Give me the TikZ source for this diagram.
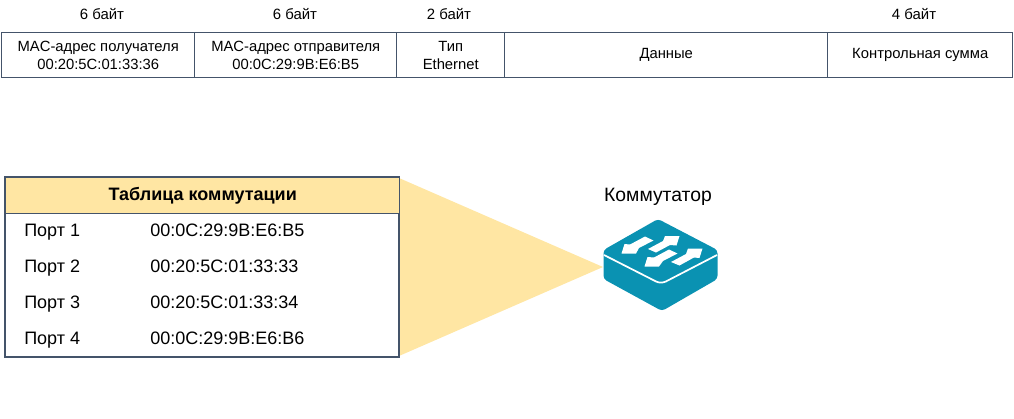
\documentclass[tikz,border=0pt]{standalone}
\usepackage{fontspec}
\setmainfont{Liberation Sans}
\definecolor{edge}{HTML}{44546A}
\definecolor{sand}{HTML}{FFE6A3}
\definecolor{teal1}{HTML}{0A92B2}
\tikzset{
  cell/.style={draw=edge,line width=1.1pt,anchor=north west,inner sep=0pt,align=center,font=\fontsize{11.1}{13.5}\selectfont,text=black},
  lab/.style={inner sep=0pt,font=\fontsize{11.2}{13}\selectfont,text=black},
  row/.style={inner sep=0pt,anchor=base west,font=\fontsize{13.5}{16}\selectfont,text=black},
  arr/.style={fill=white,draw=none},
}
\begin{document}
\begin{tikzpicture}[x=0.75pt,y=-0.75pt]
\useasboundingbox (0,0) rectangle (1014,418);
% top frame
\node[cell,minimum width=144.75pt,minimum height=33.75pt] (a) at (1,32) {MAC-адрес получателя\\00:20:5C:01:33:36};
\node[cell,minimum width=151.5pt,minimum height=33.75pt] (b) at (194,32) {MAC-адрес отправителя\\00:0C:29:9B:E6:B5};
\node[cell,minimum width=81pt,minimum height=33.75pt] (c) at (396,32) {Тип\\Ethernet};
\node[cell,minimum width=242.25pt,minimum height=33.75pt] (d) at (504,32) {Данные};
\node[cell,minimum width=138.75pt,minimum height=33.75pt] (e) at (827,32) {Контрольная сумма};
\node[lab] (la) at (102,14) {6 байт};
\node[lab] (lb) at (295,14) {6 байт};
\node[lab] (lc) at (449,14) {2 байт};
\node[lab] (le) at (914,14) {4 байт};
% beam
\fill[sand] (399,178) -- (603,267) -- (399,356) -- cycle;
% table
\draw[edge,line width=1.1pt,fill=white] (5,177) rectangle (399,357);
\node[draw=edge,line width=1.1pt,fill=sand,anchor=north west,minimum width=295.5pt,minimum height=27pt,inner sep=0pt,font=\fontsize{13.5}{16}\selectfont\bfseries] (h) at (5,177) {Таблица коммутации};
\node[row] (p1) at (24,236) {Порт 1};
\node[row] (m1) at (150,236) {00:0C:29:9B:E6:B5};
\node[row] (p2) at (24,272) {Порт 2};
\node[row] (m2) at (150,272) {00:20:5C:01:33:33};
\node[row] (p3) at (24,308) {Порт 3};
\node[row] (m3) at (150,308) {00:20:5C:01:33:34};
\node[row] (p4) at (24,344) {Порт 4};
\node[row] (m4) at (150,344) {00:0C:29:9B:E6:B6};
% switch
\node[inner sep=0pt,font=\fontsize{14.5}{17}\selectfont] (sw) at (658,197) {Коммутатор};
\fill[teal1,rounded corners=2.5pt] (603.5,250) -- (658,219) -- (717.5,250) -- (717.5,279) -- (662,311) -- (603.5,279) -- cycle;
\draw[white,line width=1.3pt,rounded corners=4pt] (604,255) -- (661,284) -- (717,255);
\fill[arr] (621.5,253.5) -- (624.5,244) -- (630,244.5) -- (645,236.5) -- (653.5,240.5) -- (639,248) -- (636,253.5) -- cycle;
\fill[arr] (679.5,236) -- (665,236) -- (663,241) -- (648,249) -- (656,252.5) -- (670,245) -- (676.5,245.5) -- cycle;
\fill[arr] (644.5,266.5) -- (647.5,257) -- (654,257.5) -- (669,249.5) -- (677.5,253.5) -- (663,261) -- (659,266.5) -- cycle;
\fill[arr] (702.5,248.5) -- (688,248.5) -- (686,254) -- (671,262) -- (679.5,265.5) -- (694,257.5) -- (699.5,258) -- cycle;
\end{tikzpicture}
\end{document}
